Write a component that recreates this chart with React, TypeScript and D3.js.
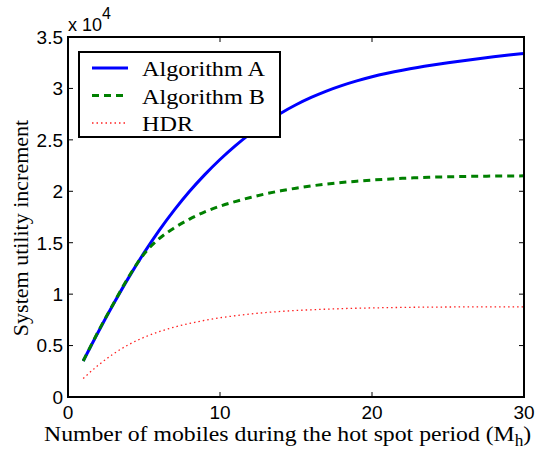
import React from 'react';
import * as d3 from 'd3';

// x values: number of mobiles during the hot spot period
const mobiles = [1, 2, 3, 4, 5, 6, 7, 8, 9, 10, 11, 12, 13, 14, 15, 16, 17, 18, 19, 20, 21, 22, 23, 24, 25, 26, 27, 28, 29, 30];

// system utility increment (raw values, axis shows them x 10^4)
const algorithmA = [3500, 6350, 9060, 11630, 14010, 16200, 18190, 20000, 21620, 23090, 24420, 25610, 26660, 27590, 28410, 29120, 29740, 30270, 30730, 31130, 31470, 31770, 32040, 32280, 32500, 32700, 32890, 33070, 33240, 33400];
const algorithmB = [3500, 6400, 9100, 11700, 13900, 15400, 16450, 17300, 18000, 18550, 19000, 19400, 19750, 20050, 20300, 20520, 20700, 20850, 20980, 21090, 21180, 21260, 21320, 21370, 21410, 21440, 21460, 21480, 21490, 21500];
const hdr = [1800, 3100, 4200, 5100, 5800, 6350, 6800, 7150, 7450, 7700, 7900, 8070, 8210, 8320, 8410, 8480, 8540, 8590, 8630, 8660, 8690, 8710, 8730, 8740, 8750, 8760, 8760, 8770, 8770, 8770];

const xTicks = [0, 10, 20, 30];
const yTicks = [0, 5000, 10000, 15000, 20000, 25000, 30000, 35000];

const seriesNames = ['Algorithm A', 'Algorithm B', 'HDR'];

const W = 547;
const H = 452;
const margin = { top: 37, right: 23, bottom: 55, left: 68 };

const sans = "'Liberation Sans', Arial, sans-serif";
const serif = "'Liberation Serif', 'Times New Roman', serif";

const App = () => {
  const iw = W - margin.left - margin.right;
  const ih = H - margin.top - margin.bottom;

  const x = d3.scaleLinear().domain([0, 30]).range([0, iw]);
  const y = d3.scaleLinear().domain([0, 35000]).range([ih, 0]);

  const line = d3.line<number>()
    .x((d, i) => x(mobiles[i]))
    .y(d => y(d))
    .curve(d3.curveMonotoneX);

  const styles = [
    { data: algorithmA, stroke: '#0000ff', width: 3, dash: undefined },
    { data: algorithmB, stroke: '#008000', width: 3, dash: '7,5' },
    { data: hdr, stroke: '#ff2020', width: 1.3, dash: '1.5,3' },
  ];

  const fmt = (v: number) => String(v / 10000);

  return (
    <svg width={W} height={H} style={{ position: 'absolute', left: 0, top: 0, background: '#fff' }}>
      <g transform={`translate(${margin.left},${margin.top})`}>
        {styles.map((s, i) => (
          <path key={i} d={line(s.data) || ''} fill="none" stroke={s.stroke}
            strokeWidth={s.width} strokeDasharray={s.dash} />
        ))}

        {/* box + ticks */}
        <rect x={0} y={0} width={iw} height={ih} fill="none" stroke="#000" strokeWidth={2} />
        {xTicks.map(t => (
          <g key={'x' + t}>
            <line x1={x(t)} x2={x(t)} y1={ih} y2={ih - 5} stroke="#000" />
            <line x1={x(t)} x2={x(t)} y1={0} y2={5} stroke="#000" />
            <text x={x(t)} y={ih + 22} textAnchor="middle" style={{ fontFamily: sans }} fontSize={19}>{t}</text>
          </g>
        ))}
        {yTicks.map(t => (
          <g key={'y' + t}>
            <line x1={0} x2={5} y1={y(t)} y2={y(t)} stroke="#000" />
            <line x1={iw} x2={iw - 5} y1={y(t)} y2={y(t)} stroke="#000" />
            <text x={-5} y={y(t)} dy="0.36em" textAnchor="end" style={{ fontFamily: sans }} fontSize={19}>{fmt(t)}</text>
          </g>
        ))}
        <text x={0} y={-6} style={{ fontFamily: sans }} fontSize={18}>
          x 10<tspan dy={-12} fontSize={16}>4</tspan>
        </text>

        {/* legend */}
        <g transform="translate(11,15)">
          <rect x={0} y={0} width={201} height={85} fill="#fff" stroke="#000" strokeWidth={2} />
          {styles.map((s, i) => (
            <g key={'l' + i} transform={`translate(0,${16 + i * 27.5})`}>
              <line x1={13} x2={49} y1={0} y2={0} stroke={s.stroke} strokeWidth={s.width} strokeDasharray={s.dash} />
              <text transform="translate(63,8) scale(1.1,1)" style={{ fontFamily: serif }} fontSize={22}>{seriesNames[i]}</text>
            </g>
          ))}
        </g>
      </g>

      <text transform="translate(28,228) rotate(-90)" textAnchor="middle"
        style={{ fontFamily: serif }} fontSize={22}>System utility increment</text>
      <text transform="translate(44,441) scale(1.08,1)" style={{ fontFamily: serif }} fontSize={22}>
        Number of mobiles during the hot spot period (M<tspan dy={5} fontSize={16}>h</tspan><tspan dy={-5}>)</tspan>
      </text>
    </svg>
  );
};

export default App;
